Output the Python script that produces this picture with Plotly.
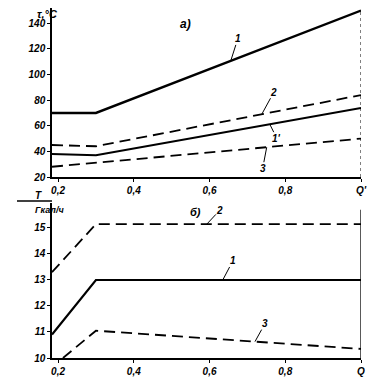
import numpy as np
import plotly.graph_objects as go

# ---- data (top panel, a): tau, °C vs Q') ----
q_top = [0.184, 0.3, 1.0]
tau_1 = [70, 70, 150]
tau_2 = [45, 44, 84]
tau_1p = [38, 37, 74]
q_top3 = [0.184, 1.0]
tau_3 = [28, 50]

# ---- data (bottom panel, b): T, Gcal/h vs Q) ----
q_bot = [0.184, 0.3, 1.0]
T_1 = [10.9, 13.0, 13.0]
T_2 = [13.3, 15.15, 15.15]
q_bot3 = [0.213, 0.3, 1.0]
T_3 = [10.0, 11.05, 10.35]

x_ticks = [0.2, 0.4, 0.6, 0.8, 1.0]
x_text_top = ["0,2", "0,4", "0,6", "0,8", "Q'"]
x_text_bot = ["0,2", "0,4", "0,6", "0,8", "Q"]
y_ticks_top = [20, 40, 60, 80, 100, 120, 140]
y_ticks_bot = [10, 11, 12, 13, 14, 15]

FONT = dict(family="Liberation Sans", size=10, color="black", style="italic", weight="bold")
DASH = "11px,6px"

fig = go.Figure()
fig.add_trace(go.Scatter(x=q_top, y=tau_1, mode="lines", line=dict(color="black", width=2.4), xaxis="x", yaxis="y"))
fig.add_trace(go.Scatter(x=q_top, y=tau_2, mode="lines", line=dict(color="black", width=1.8, dash=DASH), xaxis="x", yaxis="y"))
fig.add_trace(go.Scatter(x=q_top, y=tau_1p, mode="lines", line=dict(color="black", width=2.0), xaxis="x", yaxis="y"))
fig.add_trace(go.Scatter(x=q_top3, y=tau_3, mode="lines", line=dict(color="black", width=1.8, dash=DASH), xaxis="x", yaxis="y"))

fig.add_trace(go.Scatter(x=q_bot, y=T_1, mode="lines", line=dict(color="black", width=2.2), xaxis="x2", yaxis="y2"))
fig.add_trace(go.Scatter(x=q_bot, y=T_2, mode="lines", line=dict(color="black", width=1.8, dash=DASH), xaxis="x2", yaxis="y2"))
fig.add_trace(go.Scatter(x=q_bot3, y=T_3, mode="lines", line=dict(color="black", width=1.8, dash=DASH), xaxis="x2", yaxis="y2"))

xdom = [52 / 378, 361 / 378]
common_x = dict(range=[0.184, 1.0], tickvals=x_ticks, showgrid=False, zeroline=False,
                showline=True, linecolor="black", linewidth=1.5, ticks="outside", ticklen=3,
                tickcolor="black", tickfont=FONT, domain=xdom, automargin=False)
common_y = dict(showgrid=False, zeroline=False, showline=True, linecolor="black", linewidth=1.5,
                ticks="outside", ticklen=3, tickcolor="black", tickfont=FONT, automargin=False)

fig.update_layout(
    width=378, height=379, margin=dict(l=0, r=0, t=0, b=0, pad=0),
    paper_bgcolor="white", plot_bgcolor="white", showlegend=False,
    xaxis=dict(common_x, ticktext=x_text_top, anchor="y"),
    yaxis=dict(common_y, range=[20, 152], tickvals=y_ticks_top, domain=[1 - 177 / 379, 1 - 8 / 379], anchor="x"),
    xaxis2=dict(common_x, ticktext=x_text_bot, anchor="y2"),
    yaxis2=dict(common_y, range=[10, 15.96], tickvals=y_ticks_bot, domain=[1 - 358 / 379, 1 - 203 / 379], anchor="x2"),
)

# right edge lines
fig.add_shape(type="line", xref="x", yref="y", x0=1.0, x1=1.0, y0=20, y1=150,
              line=dict(color="black", width=1, dash="dot"))
fig.add_shape(type="line", xref="x2", yref="y2", x0=1.0, x1=1.0, y0=10, y1=15.7,
              line=dict(color="black", width=1.3))

def lab(text, q, xs, ys, ax, ay, xr, yr):
    fig.add_annotation(x=q, y=float(np.interp(q, xs, ys)), xref=xr, yref=yr, text=text,
                       showarrow=True, arrowhead=0, arrowwidth=1, arrowcolor="black",
                       ax=ax, ay=ay, font=FONT, standoff=0, borderpad=0)

lab("1", 0.656, q_top, tau_1, 7, -22, "x", "y")
lab("2", 0.738, q_top, tau_2, 12, -22, "x", "y")
lab("1'", 0.759, q_top, tau_1p, 7, 14, "x", "y")
lab("3", 0.751, q_top3, tau_3, -4, 21, "x", "y")
lab("2", 0.593, q_bot, T_2, 13, -14, "x2", "y2")
lab("1", 0.635, q_bot, T_1, 10, -19, "x2", "y2")
lab("3", 0.720, q_bot3, T_3, 10, -18, "x2", "y2")

big = dict(FONT, size=12)
fig.add_annotation(x=185 / 378, y=1 - 15 / 379, xref="paper", yref="paper", text="а)", showarrow=False, font=big)
fig.add_annotation(x=195 / 378, y=1 - 212 / 379, xref="paper", yref="paper", text="б)", showarrow=False, font=dict(FONT, size=11))
fig.add_annotation(x=35 / 378, y=1 - 6 / 379, xref="paper", yref="paper", text="τ,°C", showarrow=False, font=dict(FONT, size=11))
fig.add_annotation(x=33 / 378, y=1 - 195 / 379, xref="paper", yref="paper", text="T", showarrow=False, font=FONT)
fig.add_annotation(x=33 / 378, y=1 - 210 / 379, xref="paper", yref="paper", text="Гкал/ч", showarrow=False, font=dict(FONT, size=9))
fig.add_shape(type="line", xref="paper", yref="paper", x0=17 / 378, x1=52 / 378,
              y0=1 - 201 / 379, y1=1 - 201 / 379, line=dict(color="black", width=1.3))

fig.write_html("out.html", config={"displayModeBar": False},
               post_script="document.body.style.margin='0px';document.body.style.overflow='hidden';")
